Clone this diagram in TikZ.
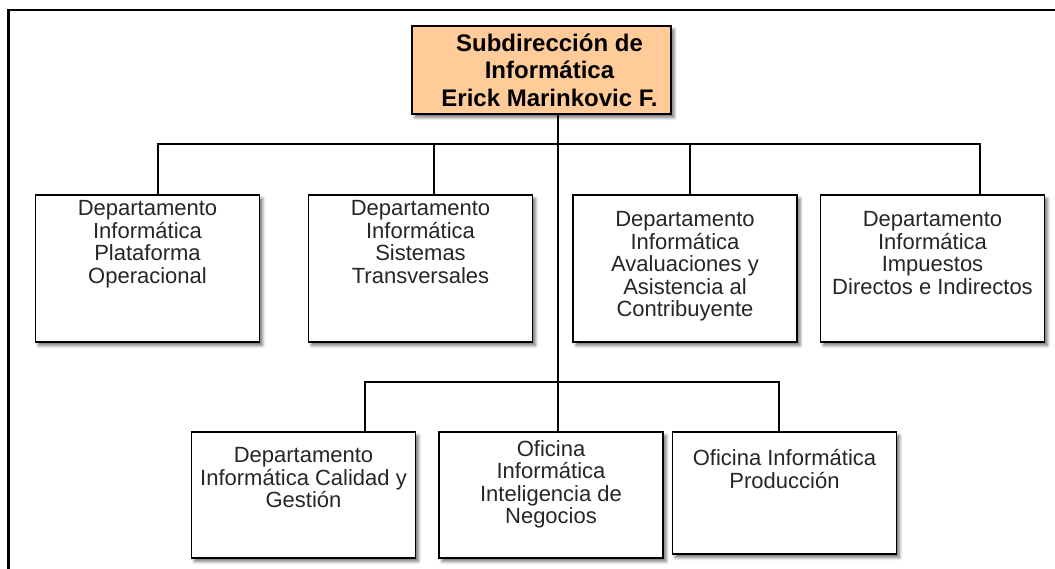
\documentclass[tikz,border=0pt]{standalone}
\usepackage{fontspec}
\setmainfont{Liberation Sans}
\usepackage{tikz}
\usetikzlibrary{positioning}
\usetikzlibrary{shadows.blur}
\definecolor{headfill}{RGB}{255,204,153}
\tikzset{
  unit/.style={draw=black, line width=1.3pt, fill=white, inner sep=0pt,
    blur shadow={shadow xshift=3pt, shadow yshift=-3.5pt, shadow blur radius=3pt, shadow opacity=55}},
  headbox/.style={unit, fill=headfill, minimum width=259pt, minimum height=88pt},
  depbox/.style={unit, minimum width=224pt, minimum height=147pt},
  ofbox/.style={unit, minimum width=224pt, minimum height=126pt},
  lbl/.style={inner sep=0pt, align=center, text=black!85, font=\fontsize{22}{22.5}\selectfont},
  headlbl/.style={inner sep=0pt, align=center, font=\fontsize{24}{27.5}\selectfont\bfseries},
  link/.style={draw=black, line width=1.3pt},
  frame/.style={line width=2.2pt}
}

\begin{document}
\begin{tikzpicture}[x=1pt,y=-1pt]
        \useasboundingbox (0,0) rectangle (1055,569);
        \draw[frame] (1060,10) -- (8.5,10) -- (8.5,575);
        %head
        \node[headbox] (top) at (541.5,70) {};
        \node[headlbl] (toplbl) at ([xshift=8pt]top.center) {Subdirección de\\Informática\\Erick Marinkovic F.};

        %departamentos
        \node[depbox] (b1) at (147.5,268.5) {};
        \node[depbox] (b2) at (420.5,268.5) {};
        \node[depbox] (b3) at (685,268.5) {};
        \node[depbox] (b4) at (932.5,268.5) {};
        \node[lbl, below=6pt of b1.north] (t1) {Departamento\\Informática\\Plataforma\\Operacional};
        \node[lbl, below=6pt of b2.north] (t2) {Departamento\\Informática\\Sistemas\\Transversales};
        \node[lbl, below=17pt of b3.north] (t3) {Departamento\\Informática\\Avaluaciones y\\Asistencia al\\Contribuyente};
        \node[lbl, below=17pt of b4.north] (t4) {Departamento\\Informática\\Impuestos\\Directos e Indirectos};

        %oficinas
        \node[ofbox] (b5) at (303.5,495) {};
        \node[ofbox] (b6) at (551,495) {};
        \node[ofbox, minimum height=122pt] (b7) at (784.5,493) {};
        \node[lbl, below=16pt of b5.north] (t5) {Departamento\\Informática Calidad y\\Gestión};
        \node[lbl, below=9pt of b6.north] (t6) {Oficina\\Informática\\Inteligencia de\\Negocios};
        \node[lbl, below=18pt of b7.north] (t7) {Oficina Informática\\Producción};

        %lines
        \coordinate (bus1) at (558,144);
        \coordinate (bus2) at (558,382);
        \draw[link] (top.south -| bus1) -- (b6.north -| bus1);
        \draw[link] ([xshift=10.5pt]b1.north) |- (bus1) -| ([xshift=47.5pt]b4.north);
        \foreach \dep/\dx in {b2/13.5, b3/5} {
        \draw[link] ([xshift=\dx pt]\dep.north) |- (bus1);}
        \draw[link] ([xshift=61.5pt]b5.north) |- (bus2) -| ([xshift=-5.5pt]b7.north);
    \end{tikzpicture}
\end{document}
